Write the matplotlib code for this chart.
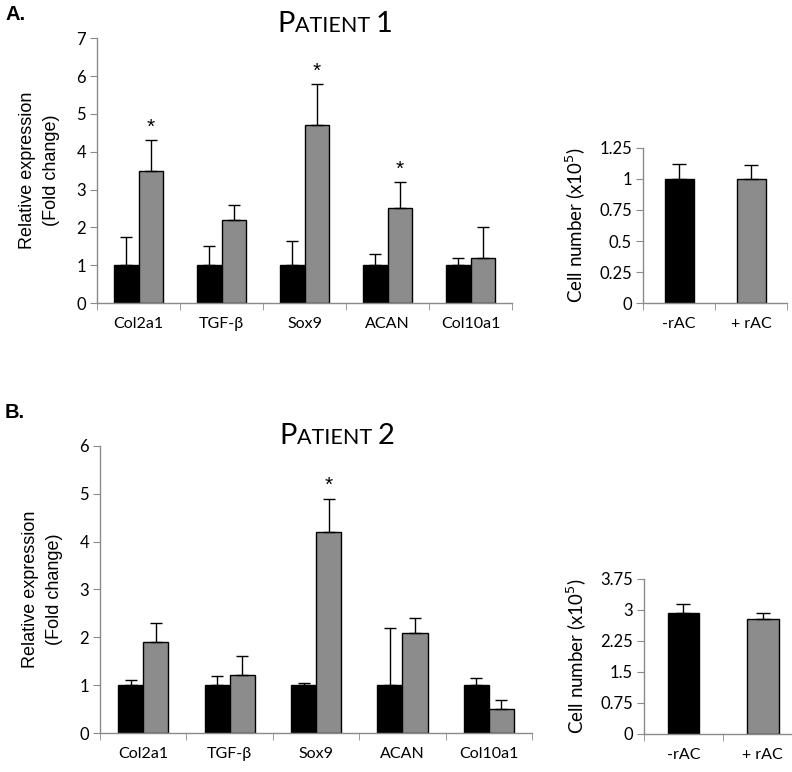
import numpy as np
import matplotlib
matplotlib.use("Agg")
import matplotlib.pyplot as plt
from matplotlib.offsetbox import TextArea, HPacker, AnchoredOffsetbox

genes = ["Col2a1", "TGF-β", "Sox9", "ACAN", "Col10a1"]
groups = ["-rAC", "+ rAC"]

# patient 1
p1_ctrl = [1.0, 1.0, 1.0, 1.0, 1.0]
p1_ctrl_err = [0.75, 0.5, 0.65, 0.3, 0.2]
p1_rac = [3.5, 2.2, 4.7, 2.5, 1.2]
p1_rac_err = [0.8, 0.4, 1.1, 0.7, 0.8]
p1_star = [True, False, True, True, False]
p1_cells = [1.0, 1.0]
p1_cells_err = [0.12, 0.11]

# patient 2
p2_ctrl = [1.0, 1.0, 1.0, 1.0, 1.0]
p2_ctrl_err = [0.1, 0.2, 0.05, 1.2, 0.15]
p2_rac = [1.9, 1.22, 4.2, 2.1, 0.5]
p2_rac_err = [0.4, 0.4, 0.7, 0.3, 0.2]
p2_star = [False, False, True, False, False]
p2_cells = [2.93, 2.77]
p2_cells_err = [0.2, 0.16]

BLACK = "black"
GREY = "#8c8c8c"
SPINE = "#8a8a8a"
calibri = ["Lato", "DejaVu Sans"]
arial = ["Liberation Sans", "DejaVu Sans"]


def style_axes(ax, ylim, yticks, labels, ylabel):
    n = len(labels)
    for s in ["top", "right"]:
        ax.spines[s].set_visible(False)
    for s in ["left", "bottom"]:
        ax.spines[s].set_color(SPINE)
        ax.spines[s].set_linewidth(1)
    ax.set_xlim(-0.5, n - 0.5)
    ax.set_ylim(*ylim)
    ax.set_yticks(yticks)
    ax.set_yticklabels([("%g" % t) for t in yticks], family=calibri, fontsize=12)
    ax.set_xticks(np.arange(n))
    ax.set_xticklabels(labels, family=calibri, fontsize=11.5)
    ax.set_xticks(np.arange(n + 1) - 0.5, minor=True)
    ax.tick_params(axis="x", which="major", length=0, pad=10)
    ax.tick_params(axis="x", which="minor", length=5, color=SPINE, direction="out")
    ax.tick_params(axis="y", length=5, color=SPINE, direction="out", pad=3)
    ax.set_ylabel(ylabel, family=arial, fontsize=13, linespacing=1.5, labelpad=12)


def gene_panel(ax, ctrl, ctrl_err, rac, rac_err, stars, ylim, yticks):
    x = np.arange(len(genes))
    w = 0.29
    ax.bar(x - w / 2, ctrl, w, color=BLACK, edgecolor="black", linewidth=1, zorder=2)
    ax.bar(x + w / 2, rac, w, color=GREY, edgecolor="black", linewidth=1, zorder=2)
    ax.errorbar(x - w / 2, ctrl, yerr=[np.zeros(len(x)), ctrl_err], fmt="none",
                ecolor="black", elinewidth=1, capsize=4, capthick=1, zorder=3)
    ax.errorbar(x + w / 2, rac, yerr=[np.zeros(len(x)), rac_err], fmt="none",
                ecolor="black", elinewidth=1, capsize=4, capthick=1, zorder=3)
    for i, s in enumerate(stars):
        if s:
            ax.text(x[i] + w / 2, rac[i] + rac_err[i] + 0.08, "*", ha="center",
                    va="bottom", fontsize=15, family=arial)
    style_axes(ax, ylim, yticks, genes, "Relative expression\n(Fold change)")


def cell_panel(ax, vals, errs, ylim, yticks):
    x = np.arange(len(groups))
    ax.bar(x, vals, 0.4, color=[BLACK, GREY], edgecolor="black", linewidth=1, zorder=2)
    ax.errorbar(x, vals, yerr=[np.zeros(len(x)), errs], fmt="none", ecolor="black",
                elinewidth=1, capsize=5, capthick=1, zorder=3)
    style_axes(ax, ylim, yticks, groups, "Cell number (x10$^5$)")
    ax.set_ylabel("Cell number (x10$^5$)", family=calibri, fontsize=13.5, labelpad=8)


def small_caps_title(fig, text_big1, text_small, text_big2, xy):
    parts = [TextArea(text_big1, textprops=dict(fontsize=21, family=calibri)),
             TextArea(text_small, textprops=dict(fontsize=15.5, family=calibri)),
             TextArea(text_big2, textprops=dict(fontsize=21, family=calibri))]
    box = HPacker(children=parts, align="baseline", pad=0, sep=0)
    ab = AnchoredOffsetbox(loc="center", child=box, frameon=False,
                           bbox_to_anchor=xy, bbox_transform=fig.transFigure,
                           borderpad=0, pad=0)
    fig.add_artist(ab)


fig = plt.figure(figsize=(7.92, 7.72), dpi=100)

ax1 = fig.add_axes([0.1225, 0.6075, 0.524, 0.343])
gene_panel(ax1, p1_ctrl, p1_ctrl_err, p1_rac, p1_rac_err, p1_star, (0, 7), range(0, 8))

ax2 = fig.add_axes([0.812, 0.6075, 0.182, 0.2008])
cell_panel(ax2, p1_cells, p1_cells_err, (0, 1.25), [0, 0.25, 0.5, 0.75, 1, 1.25])

ax3 = fig.add_axes([0.1263, 0.0505, 0.5455, 0.3718])
gene_panel(ax3, p2_ctrl, p2_ctrl_err, p2_rac, p2_rac_err, p2_star, (0, 6), range(0, 7))

ax4 = fig.add_axes([0.813, 0.0495, 0.2, 0.2008])
cell_panel(ax4, p2_cells, p2_cells_err, (0, 3.75), [0, 0.75, 1.5, 2.25, 3, 3.75])

small_caps_title(fig, "P", "ATIENT ", "1", (335 / 792, 1 - 24 / 772))
small_caps_title(fig, "P", "ATIENT ", "2", (337 / 792, 1 - 436 / 772))

fig.text(5 / 792, 1 - 14 / 772, "A.", family=arial, fontweight="bold", fontsize=14.5,
         va="center")
fig.text(5 / 792, 1 - 413 / 772, "B.", family=arial, fontweight="bold", fontsize=14.5,
         va="center")

fig.savefig("out.png", dpi=100)
